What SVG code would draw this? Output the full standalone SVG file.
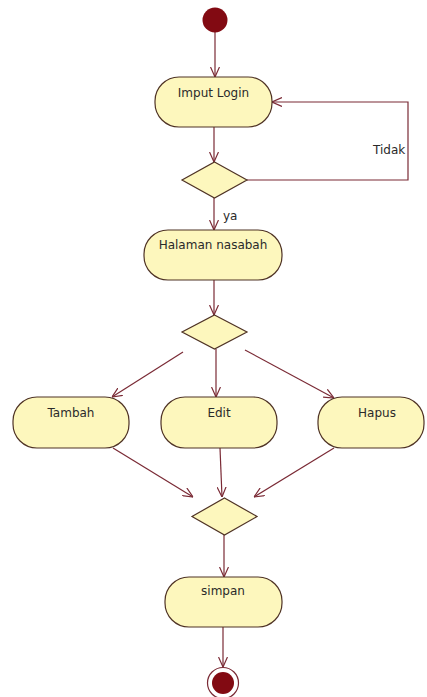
<svg xmlns="http://www.w3.org/2000/svg" width="427" height="697" viewBox="0 0 427 697">
  <style>
    .node { fill: #fdf7bd; stroke: #4f3325; stroke-width: 1.2; }
    .edge { fill: none; stroke: #7a2a35; stroke-width: 1.2; marker-end: url(#arrow); }
    .label { font-family: "DejaVu Sans", "Liberation Sans", sans-serif; font-size: 12px; fill: #2a2a2a; }
    .c { text-anchor: middle; }
  </style>
  <defs>
    <marker id="arrow" viewBox="0 0 10 10" refX="10" refY="5" markerWidth="10" markerHeight="10" markerUnits="userSpaceOnUse" orient="auto">
      <path d="M0,0.5 L10,5 L0,9.5" fill="none" stroke="#7a2a35" stroke-width="1.2"/>
    </marker>
  </defs>
  <rect width="427" height="697" fill="#ffffff"/>

  <g id="connectors">
    <path class="edge" d="M215,32 L215,77"/>
    <path class="edge" d="M214,127 L214,162"/>
    <path class="edge" d="M247,180 L408,180 L408,102 L272,102"/>
    <path class="edge" d="M214,198 L214,230"/>
    <path class="edge" d="M214,280 L214,315"/>
    <path class="edge" d="M183,352 L112,397"/>
    <path class="edge" d="M216,349 L216,397"/>
    <path class="edge" d="M245,350 L334,398"/>
    <path class="edge" d="M113,448 L193,497"/>
    <path class="edge" d="M220,448 L222,497"/>
    <path class="edge" d="M334,448 L254,497"/>
    <path class="edge" d="M224,535 L224,577"/>
    <path class="edge" d="M223,627 L223,667"/>
    <text class="label" x="373" y="154">Tidak</text>
    <text class="label" x="223" y="220">ya</text>
  </g>

  <g id="start">
    <circle cx="215" cy="20" r="12.5" fill="#820a12"/>
  </g>

  <g id="imput-login">
    <rect class="node" x="155" y="77" width="117" height="50" rx="24"/>
    <text class="label c" x="213.5" y="97">Imput Login</text>
  </g>

  <g id="decision-login">
    <polygon class="node" points="214.5,162 247,180 214.5,198 182,180"/>
  </g>

  <g id="halaman-nasabah">
    <rect class="node" x="144" y="230" width="138" height="50" rx="24"/>
    <text class="label c" x="213" y="249">Halaman nasabah</text>
  </g>

  <g id="decision-menu">
    <polygon class="node" points="214.5,315 247,332 214.5,349 182,332"/>
  </g>

  <g id="tambah">
    <rect class="node" x="13" y="397" width="116" height="51" rx="24"/>
    <text class="label c" x="71" y="417">Tambah</text>
  </g>

  <g id="edit">
    <rect class="node" x="161" y="397" width="116" height="51" rx="24"/>
    <text class="label c" x="219" y="417">Edit</text>
  </g>

  <g id="hapus">
    <rect class="node" x="318" y="397" width="106" height="51" rx="24"/>
    <text class="label c" x="377" y="417">Hapus</text>
  </g>

  <g id="merge">
    <polygon class="node" points="224.5,498 257,516.5 224.5,535 192,516.5"/>
  </g>

  <g id="simpan">
    <rect class="node" x="165" y="577" width="117" height="50" rx="24"/>
    <text class="label c" x="223" y="595">simpan</text>
  </g>

  <g id="end">
    <circle cx="223" cy="683" r="15.5" fill="#ffffff" stroke="#7a2a35" stroke-width="1.2"/>
    <circle cx="223" cy="683" r="11" fill="#820a12"/>
  </g>
</svg>
